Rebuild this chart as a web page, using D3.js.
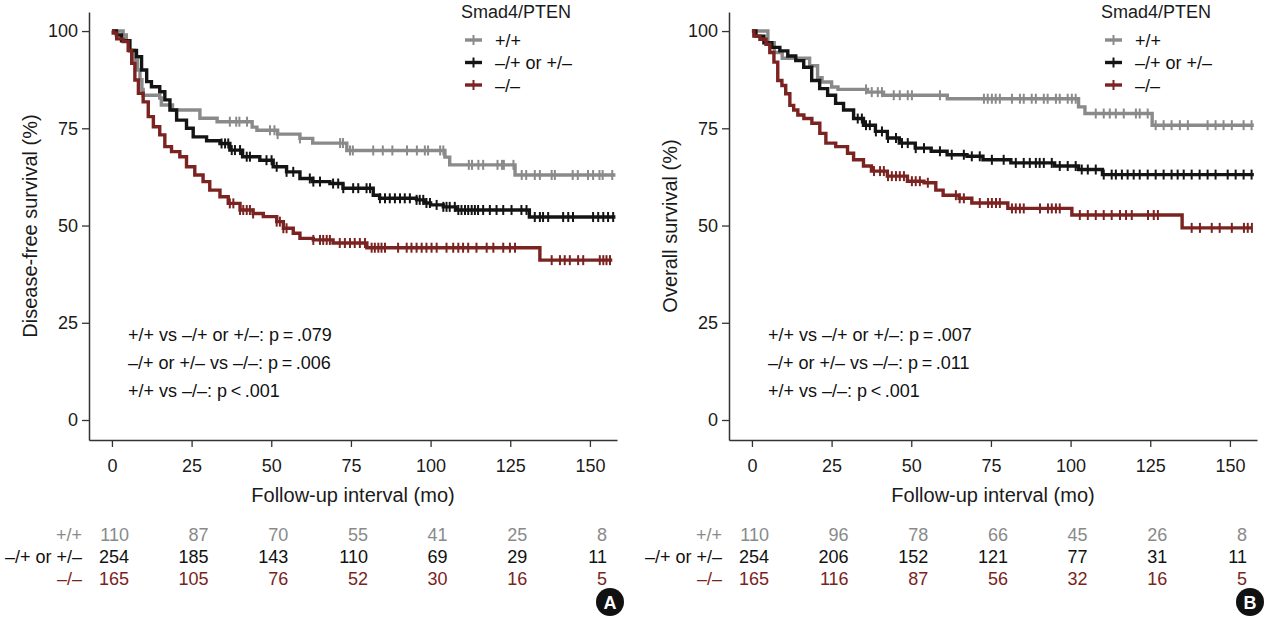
<!DOCTYPE html>
<html><head><meta charset="utf-8">
<script src="https://cdn.jsdelivr.net/npm/d3@7/dist/d3.min.js"></script>
<style>
body{margin:0;background:#fff;}
text{font-family:"Liberation Sans",Arial,Helvetica,sans-serif;}
</style></head><body>
<svg id="chart" width="1268" height="620"></svg>
<script>
// ---------- data ----------
const groups = ["+/+", "–/+ or +/–", "–/–"];
const groupColors = ["#8a8a8a", "#141414", "#7b2321"];
const xTicks = [0, 25, 50, 75, 100, 125, 150];
const yTicks = [0, 25, 50, 75, 100];
const panelLabels = ["A", "B"];
const yTitles = ["Disease-free survival (%)", "Overall survival (%)"];
const xTitle = "Follow-up interval (mo)";
const legendTitle = "Smad4/PTEN";

// Panel A: disease-free survival, step change times and survival (%)
const dfsGrayT = [0, 3.5, 4.5, 5.6, 7, 8, 8.8, 9.4, 9.8, 15, 15.5, 19, 27.6, 33, 44, 45.5, 52, 59, 63, 73.7, 104.5, 106, 126.5];
const dfsGrayS = [100, 99, 97.5, 95, 92.5, 90, 87.5, 85, 83.5, 82.8, 81, 79.7, 77.6, 76.7, 75.3, 74.5, 73.5, 72.4, 71.2, 69.3, 67.6, 65.6, 63];
const dfsGrayEnd = 158;
const dfsGrayCens = [37, 39, 40, 42.4, 49.6, 51, 52, 59, 71.6, 72.5, 74.7, 75.6, 82, 85, 88, 92.6, 95.7, 98.2, 99.2, 103, 104, 112, 113, 115, 116.5, 121, 122.4, 123, 126, 128.6, 130, 132.7, 134.3, 138, 139, 144.6, 146.2, 149.4, 151, 153, 154, 157];

const dfsBlackT = [0, 1.4, 3, 5.6, 7.7, 9.3, 10.9, 12.4, 15, 16.6, 18.2, 20.3, 23.4, 25.5, 29.7, 33.9, 37, 41, 46.4, 50.6, 54.8, 59, 63, 68.4, 72.5, 82, 84, 95.6, 98, 100, 104, 108, 131];
const dfsBlackS = [100, 99, 97.5, 95, 93.4, 90, 87, 85.7, 84.4, 82.3, 79.7, 77.1, 75, 72.8, 71.8, 71.1, 69.4, 67.7, 66.8, 65.1, 63.8, 62.1, 61.3, 60.8, 59.6, 57.8, 57, 56.6, 55.8, 55.3, 54.8, 54, 52.2];
const dfsBlackEnd = 158;
const dfsBlackCens = [34.4, 35.5, 36.5, 37.6, 38.6, 40.2, 42.3, 43.3, 48.5, 50.1, 51.7, 54.8, 56.9, 62.1, 63.2, 65.3, 69.4, 71, 72.6, 75.7, 77.3, 79.9, 81, 84.1, 85.7, 87.2, 88.8, 90.4, 91.9, 93.5, 95.6, 96.6, 97.7, 98.7, 99.8, 101.9, 104, 105, 106, 107.6, 108.7, 109.7, 110.8, 111.8, 112.9, 113.9, 114.9, 116.5, 118.6, 120.7, 122.8, 125.4, 128.5, 130.1, 132.7, 134.3, 135.3, 136.9, 141.6, 143.2, 144.7, 151, 152.6, 154.2, 155.7, 157.3];

const dfsRedT = [0, 0.4, 1.5, 3.5, 5.1, 6.2, 7.2, 8.3, 9.8, 11.4, 13, 15, 16.6, 18.7, 21.3, 23.4, 26, 28.6, 30.7, 33.9, 36.5, 40.2, 44.3, 47.5, 51.7, 53.8, 56.9, 59, 63.2, 69.4, 80, 134.3];
const dfsRedS = [100, 99.5, 98, 97.3, 95, 91.7, 87.4, 84, 81.8, 78, 75.4, 73.3, 70.3, 69, 67.7, 65.1, 63, 61.3, 59.1, 57.4, 55.7, 54, 53.1, 52.3, 51, 49.3, 48, 46.7, 46.3, 45.5, 44.3, 41.1];
const dfsRedEnd = 157;
const dfsRedCens = [37, 38.1, 40.2, 41.2, 42.3, 43.3, 44.3, 51.7, 52.7, 53.8, 54.8, 63.2, 65.3, 66.3, 67.4, 68.4, 71.5, 73.1, 74.7, 76.2, 77.8, 79.4, 81.5, 82.5, 83.6, 84.6, 85.7, 89.8, 92.5, 94, 95.6, 97.2, 98.7, 100.3, 101.9, 105, 107.1, 108.7, 110.2, 111.8, 114.4, 117.6, 119.7, 122.8, 124.9, 126.5, 138, 140.6, 142.1, 143.7, 146.3, 147.9, 153.1, 154.2, 155.2, 156.3];

// Panel B: overall survival
const osGrayT = [0, 5, 7, 9.5, 18.1, 20.6, 22, 25, 27, 36.3, 41.3, 61.3, 102.5, 104.5, 125.6];
const osGrayS = [100, 97, 94.5, 93, 91.1, 88, 86.9, 85.6, 85, 84.3, 83.5, 82.6, 80.5, 78.8, 75.8];
const osGrayEnd = 157.5;
const osGrayCens = [35.8, 37.6, 39.5, 40.8, 44.5, 46.4, 48.9, 50.2, 59, 72.8, 74, 75.3, 76.5, 77.8, 81.6, 84.1, 85.3, 87.8, 89.1, 91.6, 92.8, 95.4, 96.6, 99.1, 100.4, 101.6, 107.9, 110.4, 112.3, 114.2, 116.7, 120.5, 121.7, 124.2, 126.7, 129.2, 131.7, 134.3, 136.8, 143, 145.5, 148, 150.6, 154.3, 156.8];

const osBlackT = [0, 1.25, 3.75, 6.25, 8.75, 11.25, 13.75, 16.25, 18.75, 21.25, 23.75, 26.25, 28.75, 31.9, 35, 38.75, 42.5, 46.25, 51.25, 56.25, 61.25, 67.5, 72.5, 81.25, 95, 102.5, 110];
const osBlackS = [100, 98.7, 97, 95.8, 94.9, 93.6, 92.4, 90.7, 87.3, 85.2, 83.5, 81.4, 79.7, 77.5, 75.8, 74.2, 72.5, 71.2, 69.9, 69.1, 68.2, 67.8, 66.9, 66.1, 65.3, 64.4, 63.1];
const osBlackEnd = 157.5;
const osBlackCens = [33.2, 34.5, 35.8, 37, 38.9, 40.8, 42.7, 45.2, 47.1, 48.9, 51.4, 54, 59, 62.7, 66.5, 69, 71.5, 75.3, 79, 82.8, 85.3, 87.2, 89.1, 90.3, 91.6, 94.1, 96.6, 99.1, 101.6, 103.5, 105.4, 107.9, 110.4, 112.9, 114.2, 116.1, 117.9, 119.8, 121.7, 124.2, 126.7, 129.2, 131.7, 133.6, 135.5, 138, 140.5, 143, 145.5, 149.3, 151.8, 154.3, 156.8];

const osRedT = [0, 0.6, 2.5, 4.4, 5.6, 6.9, 8.1, 9.4, 10.6, 11.9, 13.1, 14.4, 16.3, 18.8, 21.3, 23.2, 26.3, 30, 31.9, 35, 37.5, 42.5, 48.8, 54, 57.7, 60, 65, 69, 80.3, 100.4, 135];
const osRedS = [100, 98.7, 97.9, 96.6, 94.5, 92, 87.3, 86, 83.9, 80.9, 79.7, 78.4, 77.5, 76.3, 73.7, 71.2, 70.3, 68.6, 66.9, 65.3, 64, 62.7, 61.4, 61, 59.1, 57.8, 57, 55.8, 54.4, 52.7, 49.4];
const osRedEnd = 157;
const osRedCens = [38.3, 40.2, 41.4, 42.7, 43.9, 45.2, 46.4, 47.7, 50.2, 51.4, 52.7, 55.2, 64, 65.2, 66.5, 71.5, 74.1, 75.3, 76.6, 77.8, 81.6, 82.8, 84.1, 85.3, 90.4, 92.9, 94.1, 95.4, 96.6, 102.9, 105.4, 107.9, 110.4, 112.9, 115.5, 117.4, 119.2, 124.3, 126.1, 127.4, 138, 140.6, 144.3, 146.8, 150.6, 154.4, 155.6, 156.9];

// numbers at risk
const riskA_gray = [110, 87, 70, 55, 41, 25, 8];
const riskA_black = [254, 185, 143, 110, 69, 29, 11];
const riskA_red = [165, 105, 76, 52, 30, 16, 5];
const riskB_gray = [110, 96, 78, 66, 45, 26, 8];
const riskB_black = [254, 206, 152, 121, 77, 31, 11];
const riskB_red = [165, 116, 87, 56, 32, 16, 5];

// p-values
const pTextA = ["+/+ vs –/+ or +/–: p\u2009=\u2009.079", "–/+ or +/– vs –/–: p\u2009=\u2009.006", "+/+ vs –/–: p\u2009<\u2009.001"];
const pTextB = ["+/+ vs –/+ or +/–: p\u2009=\u2009.007", "–/+ or +/– vs –/–: p\u2009=\u2009.011", "+/+ vs –/–: p\u2009<\u2009.001"];

// ---------- build ----------
const panels = [
  { offset: 0, label: panelLabels[0], yTitle: yTitles[0], pText: pTextA,
    series: [
      {T: dfsGrayT, S: dfsGrayS, end: dfsGrayEnd, cens: dfsGrayCens},
      {T: dfsBlackT, S: dfsBlackS, end: dfsBlackEnd, cens: dfsBlackCens},
      {T: dfsRedT, S: dfsRedS, end: dfsRedEnd, cens: dfsRedCens}],
    risk: [riskA_gray, riskA_black, riskA_red] },
  { offset: 640, label: panelLabels[1], yTitle: yTitles[1], pText: pTextB,
    series: [
      {T: osGrayT, S: osGrayS, end: osGrayEnd, cens: osGrayCens},
      {T: osBlackT, S: osBlackS, end: osBlackEnd, cens: osBlackCens},
      {T: osRedT, S: osRedS, end: osRedEnd, cens: osRedCens}],
    risk: [riskB_gray, riskB_black, riskB_red] }
];

const svg = d3.select("#chart");
const x = d3.scaleLinear().domain([-7.2, 158.5]).range([89, 617]);
const y = d3.scaleLinear().domain([-5.14, 104.9]).range([440, 12]);
const axisColor = "#333";

function survAt(T, S, t) {
  const i = d3.bisectRight(T, t) - 1;
  return S[Math.max(0, i)];
}

panels.forEach(p => {
  const g = svg.append("g").attr("transform", `translate(${p.offset},0)`);

  // axes
  const xa = g.append("g").attr("transform", "translate(0,440)")
    .call(d3.axisBottom(x).tickValues(xTicks).tickSize(7).tickSizeOuter(0).tickPadding(12));
  const ya = g.append("g").attr("transform", "translate(89,0)")
    .call(d3.axisLeft(y).tickValues(yTicks).tickSize(7).tickSizeOuter(0).tickPadding(4));
  [xa, ya].forEach(a => {
    a.select(".domain").attr("stroke", axisColor).attr("stroke-width", 1.5);
    a.selectAll(".tick line").attr("stroke", axisColor).attr("stroke-width", 1.3);
    a.selectAll(".tick text").attr("fill", "#1a1a1a").style("font-size", "18px")
      .style("font-family", '"Liberation Sans", Arial, sans-serif');
  });

  // titles
  g.append("text").attr("x", 353).attr("y", 502).attr("text-anchor", "middle")
    .style("font-size", "20px").attr("fill", "#1a1a1a").text(xTitle);
  g.append("text").attr("transform", "translate(37,226) rotate(-90)").attr("text-anchor", "middle")
    .style("font-size", "20px").attr("fill", "#1a1a1a").text(p.yTitle);

  // curves
  const line = d3.line().x(d => x(d[0])).y(d => y(d[1])).curve(d3.curveStepAfter);
  p.series.forEach((s, k) => {
    const pts = s.T.map((t, i) => [t, s.S[i]]);
    pts.push([s.end, s.S[s.S.length - 1]]);
    const sg = g.append("g");
    sg.append("path").attr("d", line(pts)).attr("fill", "none")
      .attr("stroke", groupColors[k]).attr("stroke-width", 3.4).attr("stroke-linejoin", "miter");
    sg.selectAll("line.c").data(s.cens).join("line").attr("class", "c")
      .attr("x1", d => x(d)).attr("x2", d => x(d))
      .attr("y1", d => y(survAt(s.T, s.S, d)) - 5)
      .attr("y2", d => y(survAt(s.T, s.S, d)) + 5)
      .attr("stroke", groupColors[k]).attr("stroke-width", 2);
  });

  // legend
  g.append("text").attr("x", 461).attr("y", 18).style("font-size", "18px").attr("fill", "#1a1a1a").text(legendTitle);
  groups.forEach((gname, k) => {
    const cy = 40 + k * 22.5;
    g.append("line").attr("x1", 465).attr("x2", 482).attr("y1", cy).attr("y2", cy)
      .attr("stroke", groupColors[k]).attr("stroke-width", 3.4);
    g.append("line").attr("x1", 473.5).attr("x2", 473.5).attr("y1", cy - 5).attr("y2", cy + 5)
      .attr("stroke", groupColors[k]).attr("stroke-width", 2);
    g.append("text").attr("x", 495).attr("y", cy + 6.5).style("font-size", "18px").attr("fill", "#111").text(gname);
  });

  // p-values
  p.pText.forEach((t, i) => {
    g.append("text").attr("x", 128).attr("y", 341 + i * 28).style("font-size", "18px").attr("fill", "#111").text(t);
  });

  // risk table
  const riskColors = ["#8a8a8a", "#111", "#7b2321"];
  groups.forEach((gname, k) => {
    const by = 541 + k * 22;
    g.append("text").attr("x", 82).attr("y", by).attr("text-anchor", "end")
      .style("font-size", "18px").attr("fill", riskColors[k]).text(gname);
    g.selectAll(null).data(p.risk[k]).join("text")
      .attr("x", (d, i) => x(xTicks[i]) + 17).attr("y", by).attr("text-anchor", "end")
      .style("font-size", "18px").attr("fill", riskColors[k]).text(d => d);
  });

  // badge
  g.append("circle").attr("cx", 610).attr("cy", 602).attr("r", 14).attr("fill", "#111");
  g.append("text").attr("x", 610).attr("y", 608.5).attr("text-anchor", "middle")
    .style("font-size", "18px").style("font-weight", "bold").attr("fill", "#fff").text(p.label);
});
</script>
</body></html>
